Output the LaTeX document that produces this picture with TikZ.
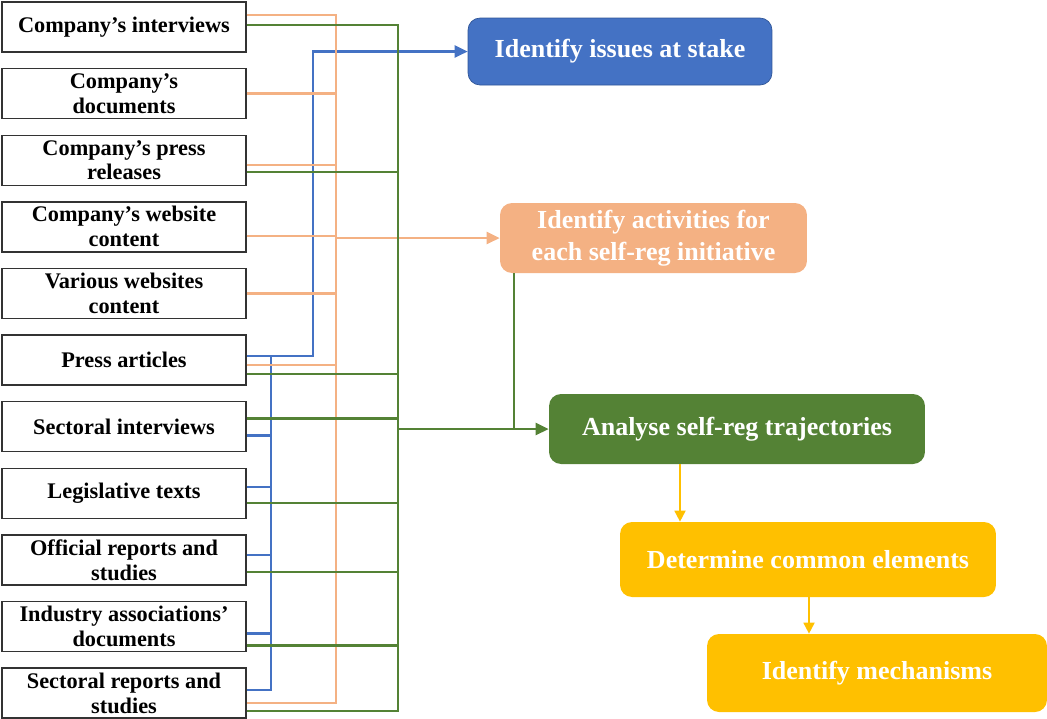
\documentclass[tikz,border=0pt]{standalone}
\usepackage{fontspec}
\setmainfont{Liberation Serif}
\usepackage{xcolor}
\usetikzlibrary{shapes,arrows.meta,positioning,calc}

\definecolor{cblue}{HTML}{4472C4}
\definecolor{cblueb}{HTML}{2F5597}
\definecolor{corange}{HTML}{F4B183}
\definecolor{cgreen}{HTML}{548235}
\definecolor{cgold}{HTML}{FFC000}

\tikzset{
  src/.style={rectangle, draw=black!80, line width=0.8pt, minimum width=4.88cm, minimum height=1cm,
    inner sep=1pt, align=center, font=\bfseries\fontsize{12.7}{14.2}\selectfont},
  stepbox/.style={rectangle, rounded corners=0.24cm, text=white, align=center,
    font=\bfseries\fontsize{14.8}{18}\selectfont},
  oline/.style={draw=corange, line width=1.4pt},
  bline/.style={draw=cblue, line width=1.4pt},
  gline/.style={draw=cgreen, line width=1.4pt},
  yline/.style={draw=cgold, line width=1pt},
  tip/.style={-{Triangle[length=0.26cm,width=0.24cm]}},
  smalltip/.style={-{Triangle[length=0.22cm,width=0.22cm]}}
}

\begin{document}
\begin{tikzpicture}[x=0.02cm, y=-0.02cm]
\useasboundingbox (0,0) rectangle (1047,718);

% sources
\node[src] (s1) at (124,27) {Company’s interviews};
\node[src] (s2) at (124,93.6) {Company’s\\documents};
\node[src] (s3) at (124,160.2) {Company’s press\\releases};
\node[src] (s4) at (124,226.8) {Company’s website\\content};
\node[src] (s5) at (124,293.4) {Various websites\\content};
\node[src] (s6) at (124,360) {Press articles};
\node[src] (s7) at (124,426.6) {Sectoral interviews};
\node[src] (s8) at (124,493.2) {Legislative texts};
\node[src] (s9) at (124,559.8) {Official reports and\\studies};
\node[src] (s10) at (124,626.4) {Industry associations’\\documents};
\node[src] (s11) at (124,693) {Sectoral reports and\\studies};

% steps
\node[stepbox, fill=cblue, draw=cblueb, minimum width=6.08cm, minimum height=1.34cm] (issues) at (620,51.5) {Identify issues at stake};
\node[stepbox, fill=corange, minimum width=6.14cm, minimum height=1.4cm] (activ) at (653.5,238) {Identify activities for\\each self-reg initiative};
\node[stepbox, fill=cgreen, minimum width=7.52cm, minimum height=1.4cm] (analyse) at (737,429) {Analyse self-reg trajectories};
\node[stepbox, fill=cgold, minimum width=7.52cm, minimum height=1.5cm] (common) at (808,559.5) {Determine common elements};
\node[stepbox, fill=cgold, minimum width=6.8cm, minimum height=1.56cm] (mech) at (877,673) {Identify mechanisms};

% buses
\coordinate (obus) at (336,0);
\coordinate (bbus) at (313,0);
\coordinate (bbus2) at (271,0);
\coordinate (gbus) at (398,0);

% blue
\draw[bline, tip] ([yshift=0.08cm]s6.east) -| (bbus |- issues.west) -- (issues.west);
\draw[bline] ([yshift=0.08cm]s6.east -| bbus2) |- ([yshift=0.06cm]s11.east);
\foreach \n/\dy in {s7/-0.18, s8/0.12, s9/0.1, s10/-0.14}
  \draw[bline] ([yshift=\dy cm]\n.east) -- ([yshift=\dy cm]\n.east -| bbus2);

% orange
\draw[oline] ([yshift=0.24cm]s1.east) -| ([yshift=-0.2cm]s11.east -| obus) -- ([yshift=-0.2cm]s11.east);
\foreach \n/\dy in {s2/0, s3/-0.1, s4/-0.18, s5/0, s6/-0.1}
  \draw[oline] ([yshift=\dy cm]\n.east) -- ([yshift=\dy cm]\n.east -| obus);
\draw[oline, tip] (obus |- activ.west) -- (activ.west);

% green
\draw[gline] ([yshift=0.04cm]s1.east) -| ([yshift=-0.36cm]s11.east -| gbus) -- ([yshift=-0.36cm]s11.east);
\foreach \n/\dy in {s3/-0.24, s6/-0.28, s7/0.16, s8/-0.2, s9/-0.24, s10/-0.38}
  \draw[gline] ([yshift=\dy cm]\n.east) -- ([yshift=\dy cm]\n.east -| gbus);
\draw[gline, tip] (gbus |- analyse.west) -- (analyse.west);
\draw[gline] (activ.south -| 514,0) -- (analyse.west -| 514,0);

% gold
\draw[yline, smalltip] (analyse.south -| 680,0) -- (common.north -| 680,0);
\draw[yline, smalltip] (common.south -| 809,0) -- (mech.north -| 809,0);
\end{tikzpicture}
\end{document}
